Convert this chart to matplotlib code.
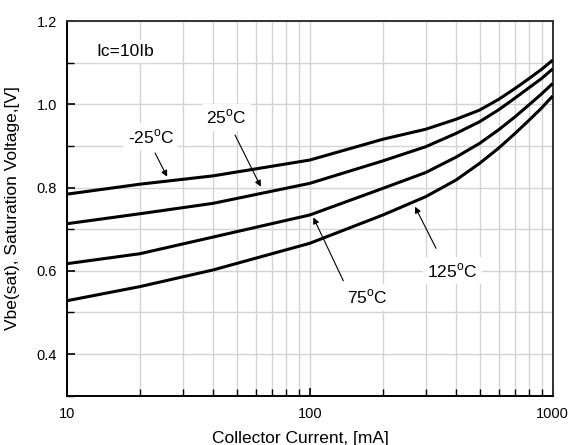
import matplotlib
matplotlib.use("Agg")
import matplotlib.pyplot as plt
from matplotlib.ticker import FixedLocator, NullFormatter, FixedFormatter

plt.rcParams['font.family'] = ['Liberation Sans', 'DejaVu Sans']
plt.rcParams['mathtext.fontset'] = 'custom'
plt.rcParams['mathtext.rm'] = 'Liberation Sans'

# Data
current_ma = [10, 20, 40, 100, 200, 300, 400, 500, 600, 700, 800, 900, 1000]
v_m25 = [0.784, 0.808, 0.828, 0.866, 0.916, 0.940, 0.964, 0.986, 1.012, 1.038, 1.062, 1.084, 1.106]
v_25 = [0.713, 0.737, 0.762, 0.810, 0.864, 0.898, 0.930, 0.958, 0.987, 1.015, 1.040, 1.062, 1.085]
v_75 = [0.617, 0.641, 0.681, 0.734, 0.798, 0.836, 0.873, 0.906, 0.939, 0.970, 0.999, 1.025, 1.050]
v_125 = [0.528, 0.562, 0.602, 0.666, 0.734, 0.778, 0.818, 0.858, 0.895, 0.930, 0.962, 0.991, 1.020]

series = [v_m25, v_25, v_75, v_125]
labels = [r'-25$^{\mathrm{o}}$C', r'25$^{\mathrm{o}}$C', r'75$^{\mathrm{o}}$C', r'125$^{\mathrm{o}}$C']
label_pos = [(22.2, 0.922), (45.5, 0.969), (172.0, 0.536), (387.0, 0.600)]
arrow_start = [(23.1, 0.883), (49.3, 0.926), (137.5, 0.576), (331.0, 0.654)]
arrow_tip = [(25.9, 0.826), (62.9, 0.802), (103.5, 0.728), (271.3, 0.754)]

x_ticks = [10, 100, 1000]
x_tick_labels = ['10', '100', '1000']
y_ticks = [0.4, 0.6, 0.8, 1.0, 1.2]
y_tick_labels = ['0.4', '0.6', '0.8', '1.0', '1.2']

fig = plt.figure(figsize=(5.71, 4.45), dpi=100)
ax = fig.add_axes([0.1168, 0.1108, 0.968 - 0.1168, 0.9528 - 0.1108])
ax.set_xscale('log')
ax.set_xlim(10, 1000)
ax.set_ylim(0.3, 1.2)

fs_tick = 10.5
fs = 12.5
ax.xaxis.set_major_locator(FixedLocator(x_ticks))
ax.xaxis.set_major_formatter(FixedFormatter(x_tick_labels))
minor_x = [m * d for d in (10, 100) for m in range(2, 10)]
ax.xaxis.set_minor_locator(FixedLocator(minor_x))
ax.xaxis.set_minor_formatter(NullFormatter())
ax.yaxis.set_major_locator(FixedLocator(y_ticks))
ax.yaxis.set_major_formatter(FixedFormatter(y_tick_labels))
ax.yaxis.set_minor_locator(FixedLocator([0.3, 0.5, 0.7, 0.9, 1.1]))

ax.tick_params(which='both', direction='in', color='black', labelsize=fs_tick)
ax.tick_params(axis='x', pad=8)
ax.tick_params(axis='y', pad=7)
ax.tick_params(which='major', length=6, width=1.2)
ax.tick_params(which='minor', length=5, width=1.0)

ax.grid(True, which='both', color='#d4d4d4', lw=1.0, zorder=0)
ax.set_axisbelow(True)

for sp in ['left', 'bottom']:
    ax.spines[sp].set_color('black')
    ax.spines[sp].set_linewidth(1.4)
for sp in ['top', 'right']:
    ax.spines[sp].set_color('#333333')
    ax.spines[sp].set_linewidth(1.4)

for v in series:
    ax.plot(current_ma, v, color='black', lw=2.2, zorder=3,
            solid_capstyle='butt', solid_joinstyle='round')

for lab, pos, st, tip in zip(labels, label_pos, arrow_start, arrow_tip):
    ax.text(pos[0], pos[1], lab, fontsize=fs, ha='center', va='center', zorder=4,
            bbox=dict(facecolor='white', edgecolor='none', pad=3))
    ax.annotate('', xy=tip, xytext=st, zorder=5,
                arrowprops=dict(arrowstyle='-|>', color='black', lw=0.8,
                                mutation_scale=9, shrinkA=0, shrinkB=0))

ax.text(17.4, 1.126, 'Ic=10Ib', fontsize=fs, ha='center', va='center', zorder=4,
        bbox=dict(facecolor='white', edgecolor='none', pad=3))

ax.set_xlabel('Collector Current, [mA]', fontsize=fs)
ax.xaxis.set_label_coords(0.48, -0.095)
ax.set_ylabel('Vbe(sat), Saturation Voltage,[V]', fontsize=fs)
ax.yaxis.set_label_coords(-0.096, 0.5)

fig.savefig('out.png', dpi=100)
